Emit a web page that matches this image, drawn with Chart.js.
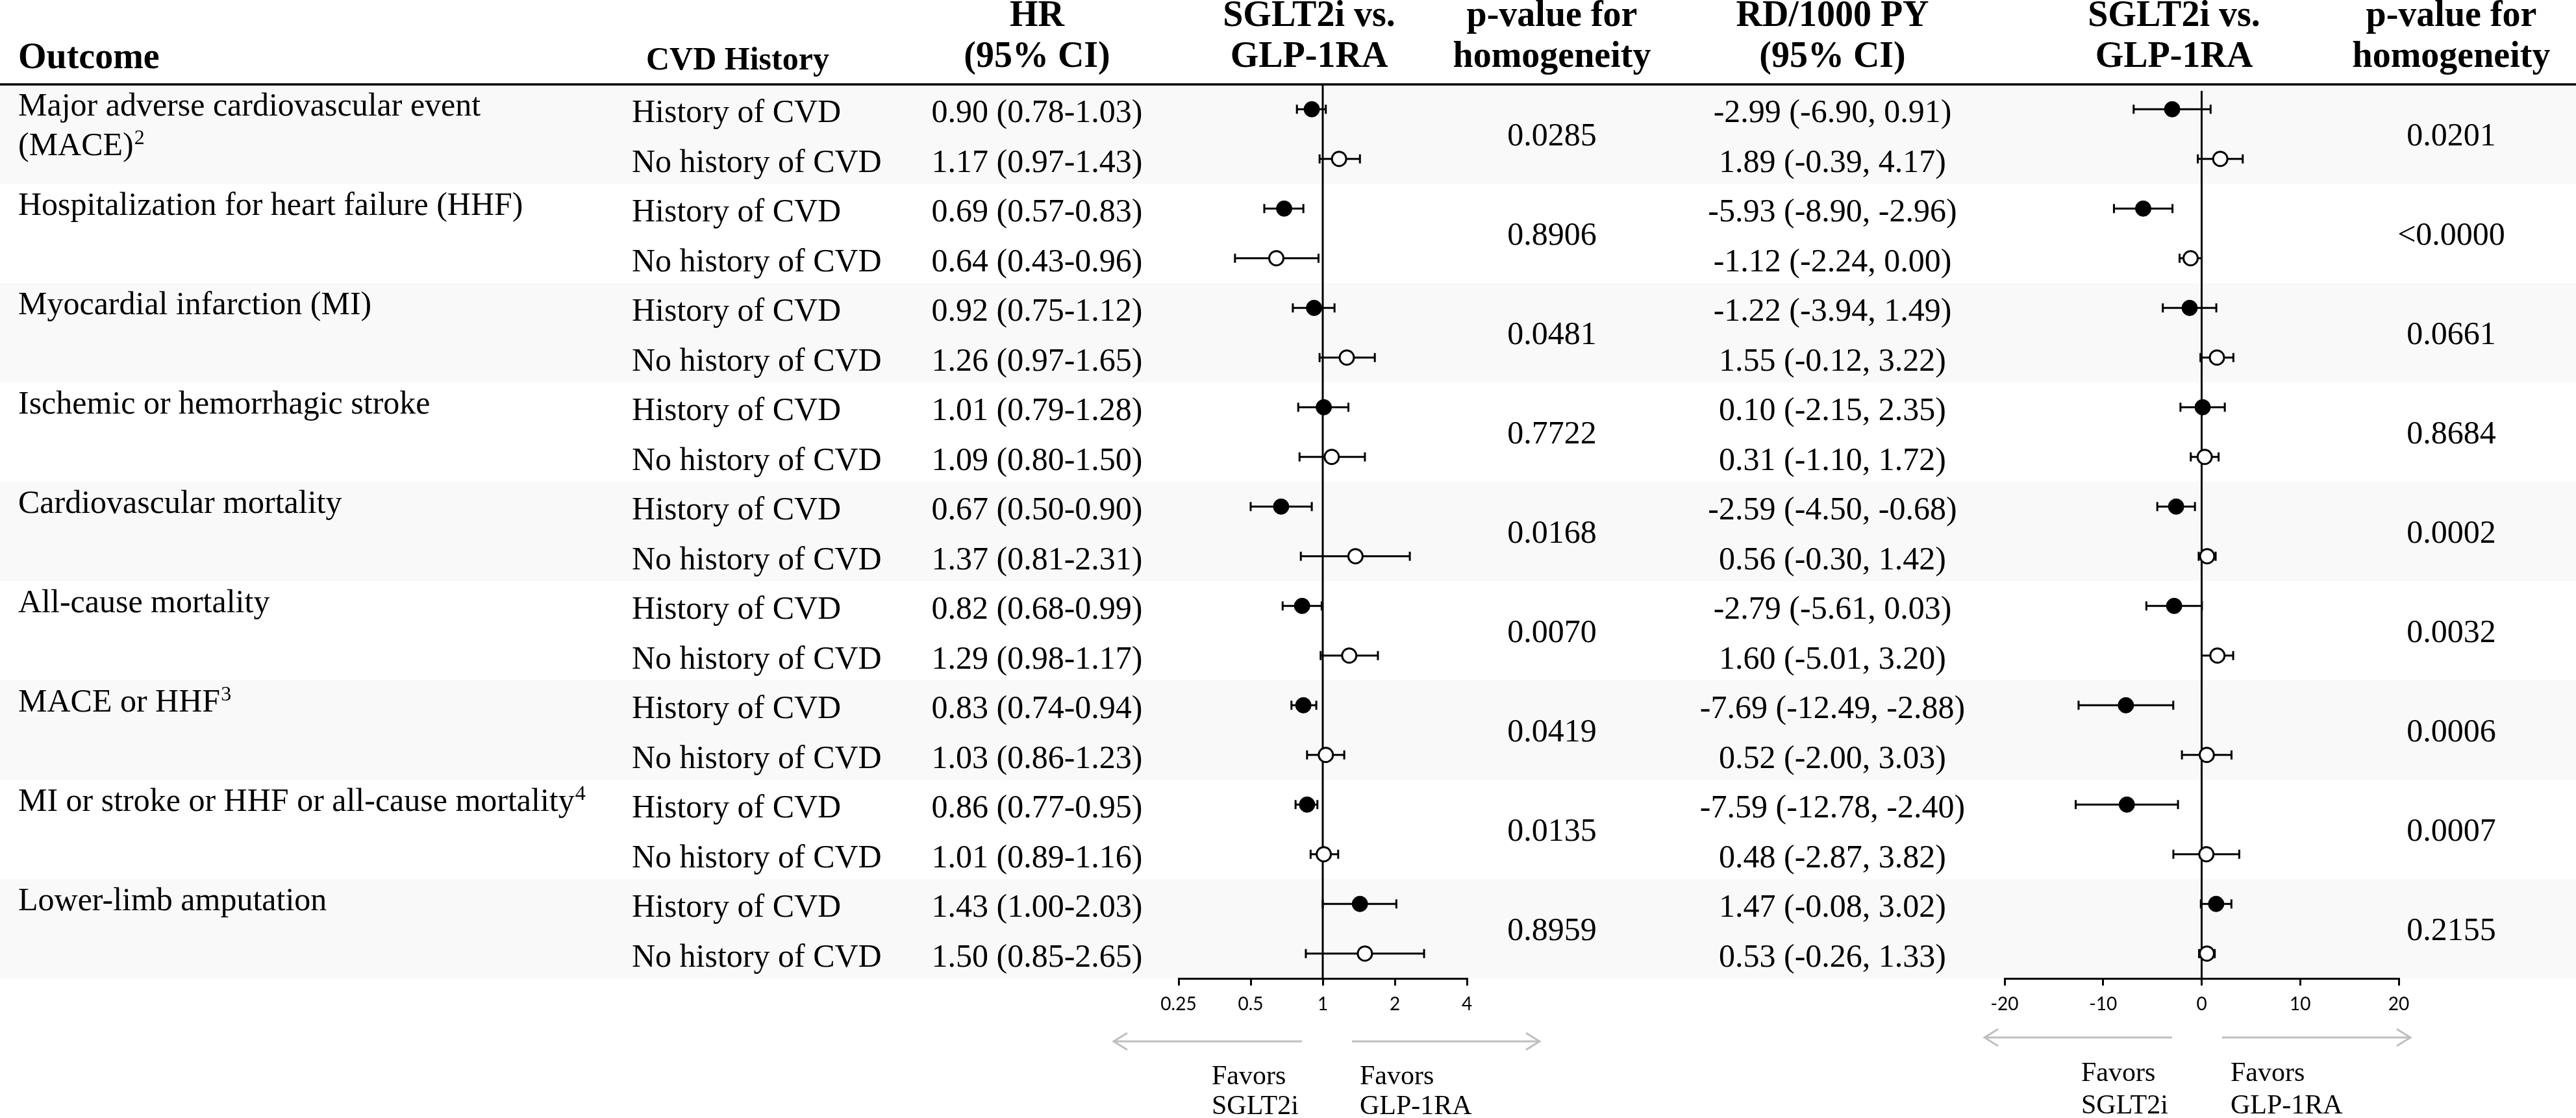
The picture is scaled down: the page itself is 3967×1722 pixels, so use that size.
<!DOCTYPE html>
<html><head><meta charset="utf-8">
<script src="https://cdn.jsdelivr.net/npm/chart.js@4"></script>
<style>html,body{margin:0;padding:0;background:#fff;}canvas{display:block;}</style>
</head><body>
<canvas id="c" width="3967" height="1722" style="width:3967px;height:1722px"></canvas>
<script>
// ---------- DATA ----------
const outcomeLines = [
  ["Major adverse cardiovascular event", "(MACE)"],
  ["Hospitalization for heart failure (HHF)"],
  ["Myocardial infarction (MI)"],
  ["Ischemic or hemorrhagic stroke"],
  ["Cardiovascular mortality"],
  ["All-cause mortality"],
  ["MACE or HHF"],
  ["MI or stroke or HHF or all-cause mortality"],
  ["Lower-limb amputation"]
];
const outcomeNotes = ["2", "", "", "", "", "", "3", "4", ""];
const cvdGroups = ["History of CVD", "No history of CVD"];

const hrEst  = [0.90, 1.17, 0.69, 0.64, 0.92, 1.26, 1.01, 1.09, 0.67, 1.37, 0.82, 1.29, 0.83, 1.03, 0.86, 1.01, 1.43, 1.50];
const hrLow  = [0.78, 0.97, 0.57, 0.43, 0.75, 0.97, 0.79, 0.80, 0.50, 0.81, 0.68, 0.98, 0.74, 0.86, 0.77, 0.89, 1.00, 0.85];
const hrHigh = [1.03, 1.43, 0.83, 0.96, 1.12, 1.65, 1.28, 1.50, 0.90, 2.31, 0.99, 1.70, 0.94, 1.23, 0.95, 1.16, 2.03, 2.65];
const hrLabels = ["0.90 (0.78-1.03)", "1.17 (0.97-1.43)", "0.69 (0.57-0.83)", "0.64 (0.43-0.96)",
  "0.92 (0.75-1.12)", "1.26 (0.97-1.65)", "1.01 (0.79-1.28)", "1.09 (0.80-1.50)",
  "0.67 (0.50-0.90)", "1.37 (0.81-2.31)", "0.82 (0.68-0.99)", "1.29 (0.98-1.17)",
  "0.83 (0.74-0.94)", "1.03 (0.86-1.23)", "0.86 (0.77-0.95)", "1.01 (0.89-1.16)",
  "1.43 (1.00-2.03)", "1.50 (0.85-2.65)"];
const hrPvals = ["0.0285", "0.8906", "0.0481", "0.7722", "0.0168", "0.0070", "0.0419", "0.0135", "0.8959"];

const rdEst  = [-2.99, 1.89, -5.93, -1.12, -1.22, 1.55, 0.10, 0.31, -2.59, 0.56, -2.79, 1.60, -7.69, 0.52, -7.59, 0.48, 1.47, 0.53];
const rdLow  = [-6.90, -0.39, -8.90, -2.24, -3.94, -0.12, -2.15, -1.10, -4.50, -0.30, -5.61, 0.00, -12.49, -2.00, -12.78, -2.87, -0.08, -0.26];
const rdHigh = [0.91, 4.17, -2.96, 0.00, 1.49, 3.22, 2.35, 1.72, -0.68, 1.42, 0.03, 3.20, -2.88, 3.03, -2.40, 3.82, 3.02, 1.33];
const rdLabels = ["-2.99 (-6.90, 0.91)", "1.89 (-0.39, 4.17)", "-5.93 (-8.90, -2.96)", "-1.12 (-2.24, 0.00)",
  "-1.22 (-3.94, 1.49)", "1.55 (-0.12, 3.22)", "0.10 (-2.15, 2.35)", "0.31 (-1.10, 1.72)",
  "-2.59 (-4.50, -0.68)", "0.56 (-0.30, 1.42)", "-2.79 (-5.61, 0.03)", "1.60 (-5.01, 3.20)",
  "-7.69 (-12.49, -2.88)", "0.52 (-2.00, 3.03)", "-7.59 (-12.78, -2.40)", "0.48 (-2.87, 3.82)",
  "1.47 (-0.08, 3.02)", "0.53 (-0.26, 1.33)"];
const rdPvals = ["0.0201", "<0.0000", "0.0661", "0.8684", "0.0002", "0.0032", "0.0006", "0.0007", "0.2155"];

const hrTicks = [0.25, 0.5, 1, 2, 4];
const rdTicks = [-20, -10, 0, 10, 20];

// ---------- LAYOUT / STYLE ----------
const W = 3967, H = 1722;
const SERIF = '"Liberation Serif","Times New Roman",serif';
const TOP = 130, AXIS_Y = 1507;
const HR_RANGE = [1815, 2259], RD_RANGE = [3087, 3694];
const COL = {outcome: 28, cvd: 973, hr: 1597, hrHead: 2016, hrP: 2390, rd: 2822, rdHead: 3348, rdP: 3775};
const BAND = '#f9f9f9';

const rowIdx = hrEst.map((_, i) => i);
const hist = i => i % 2 === 0;

function pts(est, filter) { return rowIdx.filter(filter).map(i => ({x: est[i], y: i})); }
const filled = {pointRadius: 12, pointBackgroundColor: '#000', pointBorderColor: '#000', pointBorderWidth: 1};
const open = {pointRadius: 11, pointBackgroundColor: '#fff', pointBorderColor: '#000', pointBorderWidth: 3};

function text(ctx, s, x, y, font, align) {
  ctx.font = font; ctx.textAlign = align || 'left'; ctx.textBaseline = 'alphabetic'; ctx.fillStyle = '#000';
  ctx.fillText(s, x, y);
}
function errbar(ctx, s, y, lo, hi) {
  const x1 = s.getPixelForValue(lo), x2 = s.getPixelForValue(hi);
  ctx.beginPath();
  ctx.moveTo(x1, y); ctx.lineTo(x2, y);
  ctx.moveTo(x1, y - 7); ctx.lineTo(x1, y + 7);
  ctx.moveTo(x2, y - 7); ctx.lineTo(x2, y + 7);
  ctx.stroke();
}
function arrow(ctx, xFrom, xTo, y) {
  const d = xTo > xFrom ? -1 : 1;
  ctx.beginPath();
  ctx.moveTo(xFrom, y); ctx.lineTo(xTo, y);
  ctx.moveTo(xTo + d * 21, y - 13); ctx.lineTo(xTo, y); ctx.lineTo(xTo + d * 21, y + 13);
  ctx.stroke();
}

const forestPlugin = {
  id: 'forest',
  afterLayout(chart) {
    [[chart.scales.xHR, HR_RANGE], [chart.scales.xRD, RD_RANGE]].forEach(([s, r]) => {
      s.left = r[0]; s.right = r[1]; s.width = r[1] - r[0];
      s.top = AXIS_Y; s.bottom = AXIS_Y + 100; s.height = 100;
      s.configure();
    });
  },
  beforeDraw(chart) {
    const ctx = chart.ctx, y = chart.scales.y;
    ctx.save();
    ctx.fillStyle = '#fff'; ctx.fillRect(0, 0, W, H);
    ctx.fillStyle = BAND;
    for (let k = 0; k < outcomeLines.length; k += 2) {
      const y1 = y.getPixelForValue(2 * k - 0.5), y2 = y.getPixelForValue(2 * k + 1.5);
      ctx.fillRect(0, y1, W, y2 - y1);
    }
    ctx.restore();
  },
  beforeDatasetsDraw(chart) {
    const ctx = chart.ctx, y = chart.scales.y, hr = chart.scales.xHR, rd = chart.scales.xRD;
    ctx.save();
    ctx.strokeStyle = '#000'; ctx.lineWidth = 3; ctx.lineCap = 'butt';
    ctx.beginPath();
    ctx.moveTo(hr.getPixelForValue(1), TOP); ctx.lineTo(hr.getPixelForValue(1), AXIS_Y);
    ctx.moveTo(rd.getPixelForValue(0), TOP + 10); ctx.lineTo(rd.getPixelForValue(0), AXIS_Y);
    ctx.stroke();
    rowIdx.forEach(i => {
      const py = y.getPixelForValue(i);
      errbar(ctx, hr, py, hrLow[i], hrHigh[i]);
      errbar(ctx, rd, py, rdLow[i], rdHigh[i]);
    });
    ctx.restore();
  },
  afterDraw(chart) {
    const ctx = chart.ctx, y = chart.scales.y;
    ctx.save();
    const HB = 'bold 56px ' + SERIF;
    text(ctx, 'Outcome', COL.outcome, 105, HB);
    text(ctx, 'CVD History', 995, 107, 'bold 50px ' + SERIF);
    const heads = [[COL.hr, 'HR', '(95% CI)'], [COL.hrHead, 'SGLT2i vs.', 'GLP-1RA'], [COL.hrP, 'p-value for', 'homogeneity'],
                   [COL.rd, 'RD/1000 PY', '(95% CI)'], [COL.rdHead, 'SGLT2i vs.', 'GLP-1RA'], [COL.rdP, 'p-value for', 'homogeneity']];
    heads.forEach(h => { text(ctx, h[1], h[0], 40, HB, 'center'); text(ctx, h[2], h[0], 103, HB, 'center'); });
    ctx.strokeStyle = '#000'; ctx.lineWidth = 3.5;
    ctx.beginPath(); ctx.moveTo(0, TOP); ctx.lineTo(W, TOP); ctx.stroke();
    const BF = '50px ' + SERIF, SF = '32px ' + SERIF;
    outcomeLines.forEach((lines, k) => {
      const base = y.getPixelForValue(2 * k) + 10;
      lines.forEach((ln, j) => {
        const by = base + j * 61;
        text(ctx, ln, COL.outcome, by, BF);
        if (j === lines.length - 1 && outcomeNotes[k]) {
          ctx.font = BF;
          const w = ctx.measureText(ln).width;
          text(ctx, outcomeNotes[k], COL.outcome + w + 1, by - 17, SF);
        }
      });
      const mid = (y.getPixelForValue(2 * k) + y.getPixelForValue(2 * k + 1)) / 2 + 17;
      text(ctx, hrPvals[k], COL.hrP, mid, BF, 'center');
      text(ctx, rdPvals[k], COL.rdP, mid, BF, 'center');
    });
    rowIdx.forEach(i => {
      const by = y.getPixelForValue(i) + 20;
      text(ctx, cvdGroups[i % 2], COL.cvd, by, BF);
      text(ctx, hrLabels[i], COL.hr, by, BF, 'center');
      text(ctx, rdLabels[i], COL.rd, by, BF, 'center');
    });
    ctx.strokeStyle = '#bfbfbf'; ctx.lineWidth = 3;
    arrow(ctx, 2005, 1715, 1604); arrow(ctx, 2082, 2371, 1604);
    arrow(ctx, 3345, 3056, 1598); arrow(ctx, 3422, 3712, 1598);
    const FF = '42px ' + SERIF;
    text(ctx, 'Favors', 1866, 1670, FF); text(ctx, 'SGLT2i', 1866, 1716, FF);
    text(ctx, 'Favors', 2094, 1670, FF); text(ctx, 'GLP-1RA', 2094, 1716, FF);
    text(ctx, 'Favors', 3205, 1665, FF); text(ctx, 'SGLT2i', 3205, 1715, FF);
    text(ctx, 'Favors', 3435, 1665, FF); text(ctx, 'GLP-1RA', 3435, 1715, FF);
    ctx.restore();
  }
};

function xScale(type, ticksArr, min, max) {
  return {
    type: type, position: 'bottom', min: min, max: max, display: true,
    afterBuildTicks: s => { s.ticks = ticksArr.map(v => ({value: v})); },
    afterFit: s => { s.height = 0; s.paddingLeft = 0; s.paddingRight = 0; },
    grid: {drawOnChartArea: false, drawTicks: true, tickLength: 11, color: '#000', lineWidth: 3},
    border: {display: true, color: '#000', width: 3},
    ticks: {color: '#000', font: {family: 'Lato', size: 28}, padding: 12, autoSkip: false, maxRotation: 0,
            callback: v => String(v)}
  };
}

new Chart(document.getElementById('c'), {
  type: 'scatter',
  data: {
    datasets: [
      Object.assign({label: 'HR history of CVD', xAxisID: 'xHR', yAxisID: 'y', data: pts(hrEst, hist)}, filled),
      Object.assign({label: 'HR no history of CVD', xAxisID: 'xHR', yAxisID: 'y', data: pts(hrEst, i => !hist(i))}, open),
      Object.assign({label: 'RD history of CVD', xAxisID: 'xRD', yAxisID: 'y', data: pts(rdEst, hist)}, filled),
      Object.assign({label: 'RD no history of CVD', xAxisID: 'xRD', yAxisID: 'y', data: pts(rdEst, i => !hist(i))}, open)
    ]
  },
  options: {
    responsive: false, maintainAspectRatio: false, devicePixelRatio: 1, animation: false, events: [],
    layout: {padding: {top: TOP, bottom: H - AXIS_Y, left: 0, right: 0}},
    plugins: {legend: {display: false}, tooltip: {enabled: false}},
    scales: {
      y: {type: 'linear', display: false, reverse: true, min: -0.5, max: hrEst.length - 0.5},
      xHR: xScale('logarithmic', hrTicks, 0.25, 4),
      xRD: xScale('linear', rdTicks, -20, 20)
    }
  },
  plugins: [forestPlugin]
});
</script>
</body></html>
